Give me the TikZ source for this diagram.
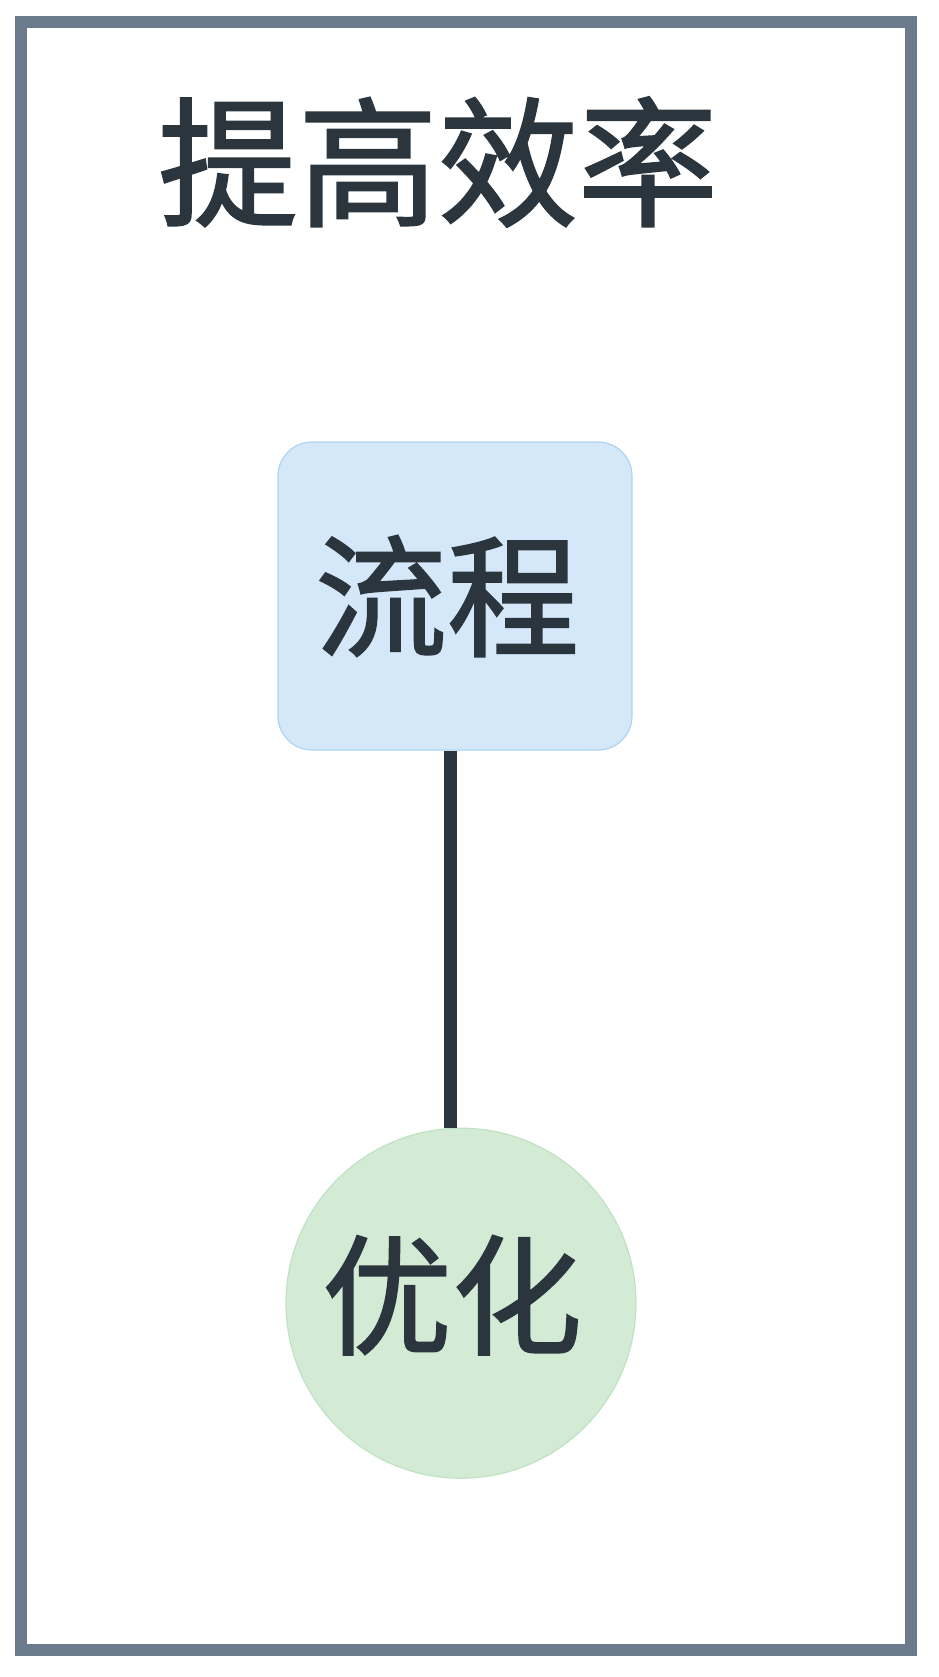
\documentclass[tikz,border=0pt]{standalone}
\usepackage{fontspec}
\usepackage{xcolor}
\usepackage{tikz}
\usetikzlibrary{shapes,positioning,calc}
\newfontfamily\cjk[FakeBold=1.4]{Noto Sans CJK SC}
\definecolor{framegray}{HTML}{6B7A8C}
\definecolor{inkdark}{HTML}{2B353D}
\definecolor{flowblue}{HTML}{D4E8FA}
\definecolor{flowedge}{HTML}{AFD3F2}
\definecolor{optgreen}{HTML}{D3EBD5}
\definecolor{optedge}{HTML}{C0E2C4}

\begin{document}
\begin{tikzpicture}[
            x=0.5pt, y=-0.5pt,
            node distance=2cm,
            box/.style={draw=flowedge, line width=0.6pt, rectangle, rounded corners=17pt, minimum width=177pt, minimum height=154pt, inner sep=0pt, fill=flowblue, text=inkdark, font=\cjk\fontsize{66}{70}\selectfont},
            ball/.style={draw=optedge, line width=0.6pt, circle, minimum size=175pt, inner sep=0pt, fill=optgreen, text=inkdark, font=\cjk\fontsize{65}{70}\selectfont}
        ]
            \useasboundingbox (0,0) rectangle (938,1677);
            \draw[framegray, line width=6pt] (21,22) rectangle (911,1650);

            \node[text=inkdark, font=\cjk\fontsize{70}{80}\selectfont] (title) at (438,162) {提高效率};
            \node[box] (flow) at (455,596) {\hspace*{-8pt}流程};
            \node[ball, below=188.5pt of flow, xshift=3pt] (optim) {\hspace*{-9pt}\raisebox{4pt}[\height][\depth]{优化}};

            \draw[inkdark, line width=6.5pt] (flow.south -| 450,0) -- (optim.north -| 450,0);
        \end{tikzpicture}
\end{document}
